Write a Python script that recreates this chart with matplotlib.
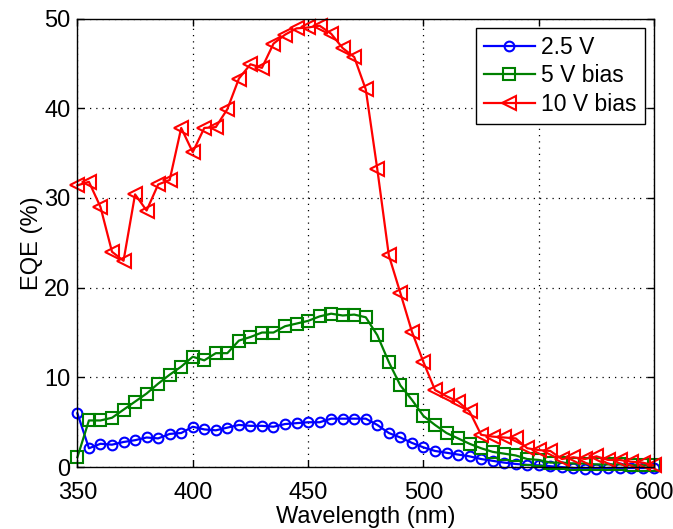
import matplotlib
matplotlib.use("Agg")
import matplotlib.pyplot as plt
import numpy as np

# wavelength grid, 5 nm steps
wavelength_nm = list(range(350, 601, 5))

eqe_2v5 = [
    6.0, 2.1, 2.6, 2.5, 2.8, 3.0, 3.3, 3.2, 3.7, 3.8,
    4.5, 4.2, 4.1, 4.4, 4.7, 4.6, 4.6, 4.5, 4.8, 4.9,
    5.0, 5.0, 5.4, 5.4, 5.4, 5.4, 4.7, 3.8, 3.3, 2.7,
    2.2, 1.8, 1.6, 1.4, 1.2, 0.9, 0.7, 0.5, 0.35, 0.25,
    0.2, 0.1, 0.0, -0.1, -0.2, -0.2, -0.1, -0.1, -0.1, -0.1,
    -0.1,
]

eqe_5v = [
    1.1, 5.2, 5.2, 5.5, 6.4, 7.3, 8.2, 9.3, 10.3, 11.2,
    12.3, 11.9, 12.7, 12.7, 14.1, 14.5, 15.0, 15.0, 15.7, 16.0,
    16.3, 16.8, 17.1, 16.9, 17.0, 16.7, 14.7, 11.7, 9.1, 7.5,
    5.7, 4.7, 3.8, 3.2, 2.6, 2.1, 1.7, 1.5, 1.3, 0.9,
    0.8, 0.5, 0.5, 0.4, 0.4, 0.3, 0.3, 0.3, 0.2, 0.2,
    0.2,
]

eqe_10v = [
    31.4, 31.8, 29.0, 24.0, 23.0, 30.4, 28.6, 31.5, 32.0, 37.8,
    35.1, 37.8, 37.9, 39.9, 43.3, 44.9, 44.5, 47.2, 48.2, 48.9,
    49.0, 49.2, 48.3, 46.7, 45.7, 42.1, 33.2, 23.6, 19.4, 15.1,
    11.7, 8.6, 7.9, 7.3, 6.2, 3.6, 3.4, 3.3, 3.2, 2.1,
    1.9, 1.8, 0.9, 1.1, 0.9, 1.2, 0.8, 0.8, 0.6, 0.5,
    0.2,
]

series_labels = ["2.5 V", "5 V bias", "10 V bias"]
x_ticks = [350, 400, 450, 500, 550, 600]
y_ticks = [0, 10, 20, 30, 40, 50]

plt.rcParams["font.family"] = ["Liberation Sans", "DejaVu Sans"]
FS = 17

fig = plt.figure(figsize=(6.73, 5.29), dpi=100)
ax = fig.add_axes([0.115, 0.117, 0.857, 0.848])

ax.plot(wavelength_nm, eqe_2v5, color=(0, 0, 1), lw=1.6, marker="o",
        ms=7, mfc="none", mew=1.5, label=series_labels[0], clip_on=False)
ax.plot(wavelength_nm, eqe_5v, color=(0, 0.5, 0), lw=1.6, marker="s",
        ms=9, mfc="none", mew=1.5, label=series_labels[1], clip_on=False)
ax.plot(wavelength_nm, eqe_10v, color=(1, 0, 0), lw=1.6, marker="<",
        ms=10, mfc="none", mew=1.5, label=series_labels[2], clip_on=False)

ax.set_xlim(350, 600)
ax.set_ylim(0, 50)
ax.set_xticks(x_ticks)
ax.set_yticks(y_ticks)
ax.tick_params(direction="in", length=5, width=1, top=True, right=True,
               labelsize=FS)
ax.tick_params(axis="x", pad=11)
ax.tick_params(axis="y", pad=5)
for sp in ax.spines.values():
    sp.set_linewidth(1.0)
    sp.set_color("black")

ax.grid(True, color="black", linestyle=(0, (1, 4)), linewidth=0.9)
ax.set_axisbelow(True)

ax.set_xlabel("Wavelength (nm)", fontsize=FS, labelpad=1)
ax.set_ylabel("EQE (%)", fontsize=FS, labelpad=1)

leg = ax.legend(loc="upper right", fontsize=16.5, numpoints=1,
                handlelength=2.2, borderaxespad=0.4, fancybox=False,
                framealpha=1, edgecolor="black", borderpad=0.35,
                labelspacing=0.25, handletextpad=0.3)
leg.get_frame().set_linewidth(1.0)

fig.savefig("out.png", dpi=100)
